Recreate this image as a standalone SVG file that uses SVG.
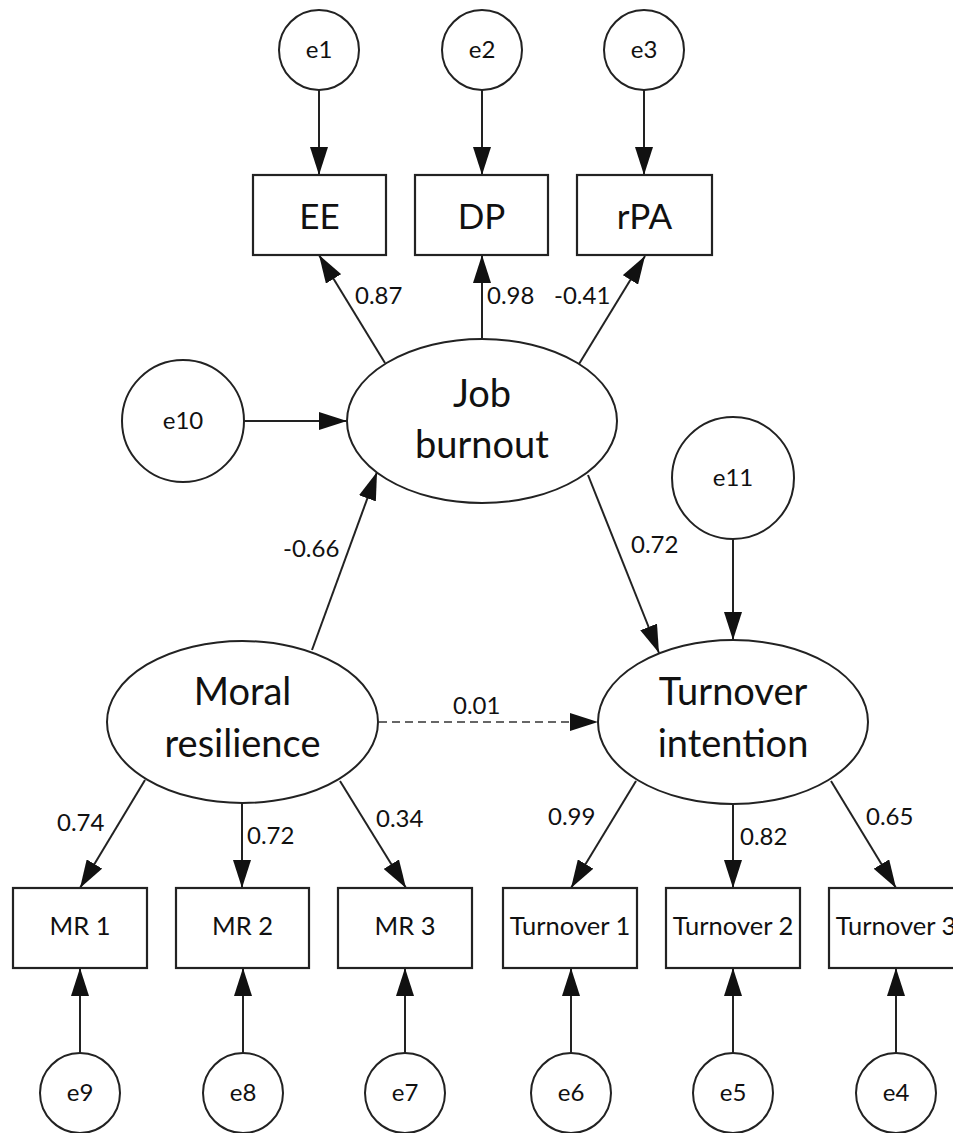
<svg xmlns="http://www.w3.org/2000/svg" width="953" height="1133" viewBox="0 0 953 1133">
<style>
  .shape { fill: #fff; stroke: #222; stroke-width: 2; }
  .box { fill: #fff; stroke: #222; stroke-width: 2.2; }
  .edge { fill: none; stroke: #222; stroke-width: 2; marker-end: url(#arrow); }
  .dash { fill: none; stroke: #666; stroke-width: 2; stroke-dasharray: 8 5; marker-end: url(#arrow); }
  text { font-family: Lato, "Open Sans", "Liberation Sans", sans-serif; fill: #111; }
  .big { font-size: 38px; text-anchor: middle; }
  .ind { font-size: 35px; text-anchor: middle; }
  .sm { font-size: 25.5px; text-anchor: middle; }
  .err { font-size: 24px; text-anchor: middle; }
  .lab { font-size: 24px; }
</style>
<defs>
  <marker id="arrow" markerUnits="userSpaceOnUse" markerWidth="28" markerHeight="18" refX="28" refY="9" orient="auto">
    <path d="M0,0 L28,9 L0,18 z" fill="#111"/>
  </marker>
</defs>
<rect width="953" height="1133" fill="#fff"/>

<g id="connectors">
  <line class="edge" x1="319" y1="90" x2="319" y2="175"/>
  <line class="edge" x1="482" y1="90" x2="482" y2="175"/>
  <line class="edge" x1="644" y1="90" x2="644" y2="175"/>
  <line class="edge" x1="385" y1="363" x2="319" y2="255"/>
  <line class="edge" x1="482" y1="339" x2="482" y2="255"/>
  <line class="edge" x1="579" y1="364" x2="645" y2="256"/>
  <line class="edge" x1="244" y1="421" x2="347" y2="421"/>
  <line class="edge" x1="312" y1="650" x2="377" y2="472"/>
  <line class="edge" x1="588" y1="475" x2="659" y2="653"/>
  <line class="edge" x1="733" y1="539" x2="733" y2="640"/>
  <line class="dash" x1="379" y1="722" x2="598" y2="722"/>
  <line class="edge" x1="145" y1="780" x2="80" y2="888"/>
  <line class="edge" x1="242" y1="803" x2="242" y2="888"/>
  <line class="edge" x1="340" y1="781" x2="406" y2="888"/>
  <line class="edge" x1="636" y1="781" x2="571" y2="888"/>
  <line class="edge" x1="733" y1="804" x2="733" y2="888"/>
  <line class="edge" x1="831" y1="781" x2="896" y2="888"/>
  <line class="edge" x1="80" y1="1053" x2="80" y2="968"/>
  <line class="edge" x1="243" y1="1053" x2="243" y2="968"/>
  <line class="edge" x1="405" y1="1053" x2="405" y2="968"/>
  <line class="edge" x1="571" y1="1053" x2="571" y2="968"/>
  <line class="edge" x1="733" y1="1053" x2="733" y2="968"/>
  <line class="edge" x1="896" y1="1053" x2="896" y2="968"/>
  <text class="lab" x="355" y="304">0.87</text>
  <text class="lab" x="487" y="304">0.98</text>
  <text class="lab" x="554" y="304">-0.41</text>
  <text class="lab" x="283" y="557">-0.66</text>
  <text class="lab" x="631" y="553">0.72</text>
  <text class="lab" x="453" y="714">0.01</text>
  <text class="lab" x="57" y="831">0.74</text>
  <text class="lab" x="247" y="844">0.72</text>
  <text class="lab" x="376" y="827">0.34</text>
  <text class="lab" x="548" y="825">0.99</text>
  <text class="lab" x="740" y="845">0.82</text>
  <text class="lab" x="866" y="825">0.65</text>
</g>

<g id="e1"><circle class="shape" cx="319" cy="50" r="40"/><text class="err" x="319" y="58">e1</text></g>
<g id="e2"><circle class="shape" cx="482" cy="50" r="40"/><text class="err" x="482" y="58">e2</text></g>
<g id="e3"><circle class="shape" cx="644" cy="50" r="40"/><text class="err" x="644" y="58">e3</text></g>

<g id="EE"><rect class="box" x="253" y="175" width="133" height="80"/><text class="ind" x="319.5" y="229">EE</text></g>
<g id="DP"><rect class="box" x="415" y="175" width="133" height="80"/><text class="ind" x="481.5" y="229">DP</text></g>
<g id="rPA"><rect class="box" x="577" y="175" width="135" height="80"/><text class="ind" x="644.5" y="229">rPA</text></g>

<g id="e10"><circle class="shape" cx="183" cy="421" r="61"/><text class="err" x="183" y="429">e10</text></g>
<g id="job-burnout"><ellipse class="shape" cx="482" cy="421" rx="135" ry="82"/><text class="big" x="482" y="407">Job</text><text class="big" x="482" y="458">burnout</text></g>
<g id="e11"><circle class="shape" cx="733" cy="478" r="61"/><text class="err" x="733" y="486">e11</text></g>

<g id="moral-resilience"><ellipse class="shape" cx="242.5" cy="722" rx="135.5" ry="81"/><text class="big" x="242.5" y="705">Moral</text><text class="big" x="242.5" y="757">resilience</text></g>
<g id="turnover-intention"><ellipse class="shape" cx="733" cy="722" rx="135" ry="82"/><text class="big" x="733" y="705">Turnover</text><text class="big" x="733" y="757">intention</text></g>

<g id="MR1"><rect class="box" x="13" y="888" width="134" height="80"/><text class="sm" x="80" y="935">MR 1</text></g>
<g id="MR2"><rect class="box" x="176" y="888" width="133" height="80"/><text class="sm" x="242.5" y="935">MR 2</text></g>
<g id="MR3"><rect class="box" x="338" y="888" width="134" height="80"/><text class="sm" x="405" y="935">MR 3</text></g>
<g id="T1"><rect class="box" x="503" y="888" width="134" height="80"/><text class="sm" x="570" y="935">Turnover 1</text></g>
<g id="T2"><rect class="box" x="666" y="888" width="134" height="80"/><text class="sm" x="733" y="935">Turnover 2</text></g>
<g id="T3"><rect class="box" x="829" y="888" width="134" height="80"/><text class="sm" x="896" y="935">Turnover 3</text></g>

<g id="e9"><circle class="shape" cx="80" cy="1093" r="40"/><text class="err" x="80" y="1101">e9</text></g>
<g id="e8"><circle class="shape" cx="243" cy="1093" r="40"/><text class="err" x="243" y="1101">e8</text></g>
<g id="e7"><circle class="shape" cx="405" cy="1093" r="40"/><text class="err" x="405" y="1101">e7</text></g>
<g id="e6"><circle class="shape" cx="571" cy="1093" r="40"/><text class="err" x="571" y="1101">e6</text></g>
<g id="e5"><circle class="shape" cx="733" cy="1093" r="40"/><text class="err" x="733" y="1101">e5</text></g>
<g id="e4"><circle class="shape" cx="896" cy="1093" r="40"/><text class="err" x="896" y="1101">e4</text></g>
</svg>
